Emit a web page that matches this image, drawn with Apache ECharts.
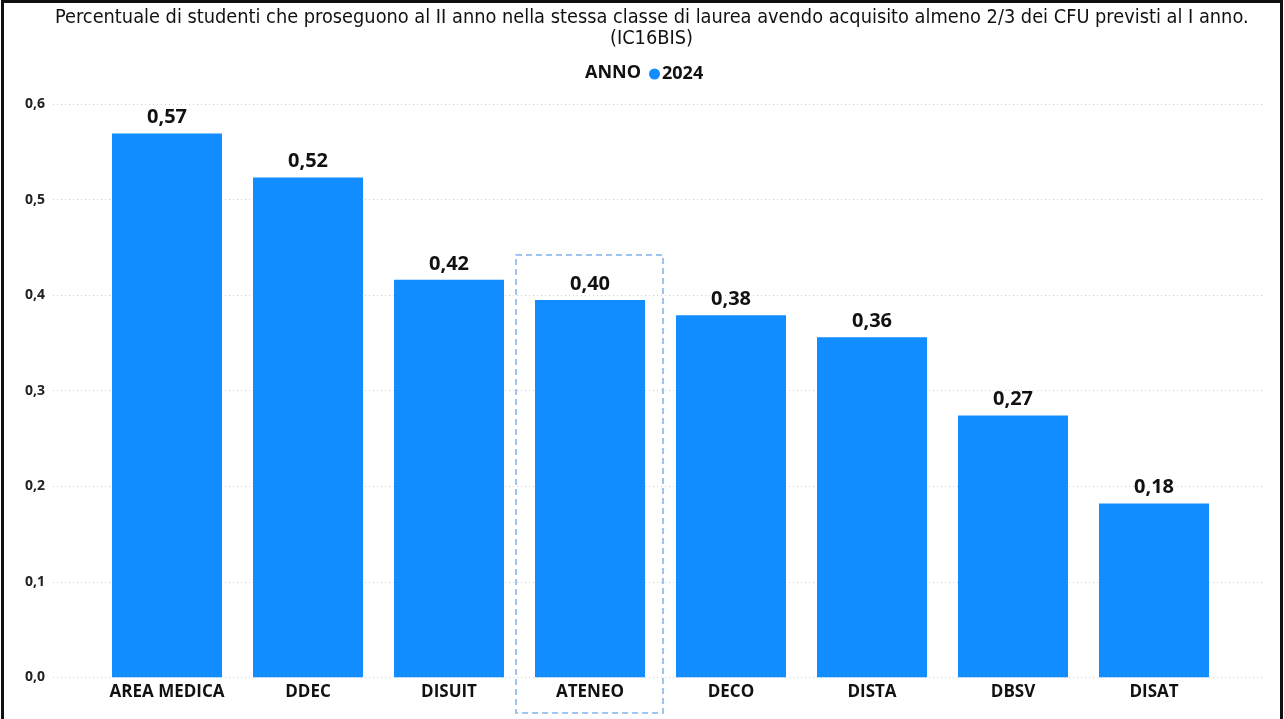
<!DOCTYPE html>
<html><head><meta charset="utf-8">
<script src="https://cdn.jsdelivr.net/npm/echarts@6/dist/echarts.min.js"></script>
<style>html,body{margin:0;padding:0;background:#fff}#c{width:1284px;height:719px}</style>
</head><body><div id="c"></div>
<script>
const categories = ['AREA MEDICA','DDEC','DISUIT','ATENEO','DECO','DISTA','DBSV','DISAT'];
const values2024 = [0.569, 0.523, 0.416, 0.395, 0.379, 0.356, 0.274, 0.182];
const seriesName = '2024';
const legendTitle = 'ANNO';
const highlighted = 'ATENEO';
const titleLines = ['Percentuale di studenti che proseguono al II anno nella stessa classe di laurea avendo acquisito almeno 2/3 dei CFU previsti al I anno.', '(IC16BIS)'];
const yTicks = {min: 0, max: 0.6, interval: 0.1};

const chart = echarts.init(document.getElementById('c'), null, {renderer: 'canvas'});
const comma = (v, d) => v.toFixed(d).replace('.', ',');
const boldFont = '"Open Sans", "Noto Sans", sans-serif';
const titleFont = '"DejaVu Sans Condensed", "Liberation Sans Narrow", sans-serif';

const option = {
  backgroundColor: '#fff',
  animation: false,
  title: [{
    text: titleLines[0], left: 50, top: 3,
    textStyle: {fontFamily: titleFont, fontWeight: 'normal', fontSize: 19.8, color: '#111'}
  }, {
    text: titleLines[1], left: 605, top: 24,
    textStyle: {fontFamily: titleFont, fontWeight: 'normal', fontSize: 19.8, color: '#111'}
  }, {
    text: legendTitle, left: 580, top: 59,
    textStyle: {fontFamily: boldFont, fontWeight: 'bold', fontSize: 18, color: '#111'}
  }],
  legend: {
    left: 644, top: 60, icon: 'circle', itemWidth: 11, itemHeight: 11, itemGap: 4,
    textStyle: {fontFamily: boldFont, fontWeight: 'bold', fontSize: 18, color: '#111', padding: [0,0,0,-3]},
    data: [seriesName]
  },
  grid: [
    {left: 53, right: 19, top: 104, bottom: 41.7},
    {left: 96.5, right: 59.5, top: 104, bottom: 41.7}
  ],
  xAxis: [
    {gridIndex: 0, type: 'category', data: [''], show: false},
    {gridIndex: 1, type: 'category', data: categories,
     axisLine: {show: false}, axisTick: {show: false},
     axisLabel: {margin: 6, fontFamily: boldFont, fontWeight: 'bold', fontSize: 17, color: '#111', interval: 0}}
  ],
  yAxis: [
    {gridIndex: 0, type: 'value', min: yTicks.min, max: yTicks.max, interval: yTicks.interval,
     axisLine: {show: false}, axisTick: {show: false},
     axisLabel: {margin: 8, fontFamily: boldFont, fontWeight: 'bold', fontSize: 14, color: '#222', formatter: v => comma(v, 1)},
     splitLine: {show: true, lineStyle: {color: '#d0d0d0', type: [1, 3], width: 1}}},
    {gridIndex: 1, type: 'value', min: yTicks.min, max: yTicks.max, interval: yTicks.interval, show: false, splitLine: {show: false}}
  ],
  series: [{
    name: seriesName, type: 'bar', xAxisIndex: 1, yAxisIndex: 1,
    data: values2024, barCategoryGap: '22%',
    itemStyle: {color: '#118DFF'},
    label: {show: true, position: 'top', distance: 6, fontFamily: boldFont, fontWeight: 'bold', fontSize: 20, color: '#111', formatter: p => comma(p.value, 2)}
  }]
};
chart.setOption(option);

// frame and selection box
const idx = categories.indexOf(highlighted);
const c0 = chart.convertToPixel({xAxisIndex: 1, yAxisIndex: 1}, [idx, values2024[idx]]);
const c1 = chart.convertToPixel({xAxisIndex: 1, yAxisIndex: 1}, [idx + 1, 0]);
const band = c1[0] - c0[0];
chart.setOption({graphic: [
  {type: 'rect', shape: {x: c0[0] - band/2 - 3.5, y: c0[1] - 45, width: band + 6, height: 713 - (c0[1] - 45)},
   style: {fill: 'none', stroke: '#9fc5ee', lineWidth: 2, lineDash: [6, 4]}, silent: true, z: 100},
  {type: 'rect', shape: {x: 2.5, y: 1.5, width: 1279, height: 740},
   style: {fill: 'none', stroke: '#111', lineWidth: 3}, silent: true, z: 100}
]});
</script></body></html>
